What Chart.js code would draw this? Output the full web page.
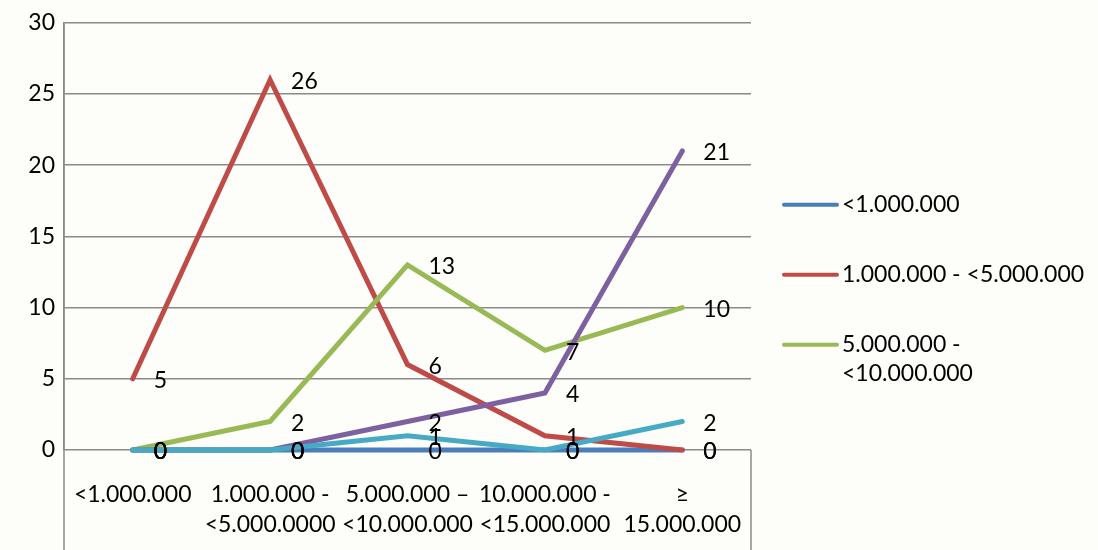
<!DOCTYPE html>
<html>
<head>
<meta charset="utf-8">
<script src="https://cdn.jsdelivr.net/npm/chart.js@4"></script>
<style>
  html, body { margin: 0; padding: 0; background: #fdfdf9; }
  #wrap { width: 1098px; height: 550px; }
</style>
</head>
<body>
<div id="wrap"><canvas id="incomeChart"></canvas></div>
<script>
const categories = [
  ['<1.000.000'],
  ['1.000.000 -', '<5.000.0000'],
  ['5.000.000 \u2013', '<10.000.000'],
  ['10.000.000 -', '<15.000.000'],
  ['\u2265', '15.000.000']
];
const seriesNames = [
  '<1.000.000',
  '1.000.000 - <5.000.000',
  '5.000.000 - <10.000.000',
  '10.000.000 - <15.000.000',
  '\u2265 15.000.000'
];
// only the first three entries show in the legend, the last one wraps
const legendText = [
  ['<1.000.000'],
  ['1.000.000 - <5.000.000'],
  ['5.000.000 -', '<10.000.000']
];
const below1m = [0, 0, 0, 0, 0];
const from1to5m = [5, 26, 6, 1, 0];
const from5to10m = [0, 2, 13, 7, 10];
const from10to15m = [0, 0, 2, 4, 21];
const above15m = [0, 0, 1, 0, 2];
const yTicks = [0, 5, 10, 15, 20, 25, 30];

const colors = ['#4a7ebb', '#be4b48', '#98b954', '#7d60a0', '#46aac5'];
const FONT = 'Lato';
const gray = '#8a8a8a';

const seriesValues = [below1m, from1to5m, from5to10m, from10to15m, above15m];

const pageBackground = {
  id: 'pageBackground',
  beforeDraw(chart) {
    const ctx = chart.ctx;
    ctx.save();
    ctx.fillStyle = '#fdfdf9';
    ctx.fillRect(0, 0, chart.width, chart.height);
    ctx.restore();
  }
};

// the frame lines that run below the plot, around the category labels
const frameLines = {
  id: 'frameLines',
  afterDraw(chart) {
    const a = chart.chartArea;
    const ctx = chart.ctx;
    ctx.save();
    ctx.strokeStyle = gray;
    ctx.lineWidth = 1.5;
    ctx.beginPath();
    ctx.moveTo(a.left, a.top);
    ctx.lineTo(a.left, chart.height);
    ctx.moveTo(a.right, a.bottom);
    ctx.lineTo(a.right, chart.height);
    ctx.stroke();
    ctx.restore();
  }
};

const valueLabels = {
  id: 'valueLabels',
  afterDatasetsDraw(chart) {
    const ctx = chart.ctx;
    ctx.save();
    ctx.font = '23px ' + FONT;
    ctx.fillStyle = '#000';
    ctx.textAlign = 'left';
    ctx.textBaseline = 'middle';
    chart.data.datasets.forEach((ds, i) => {
      chart.getDatasetMeta(i).data.forEach((pt, j) => {
        ctx.fillText(String(ds.data[j]), pt.x + 21, pt.y + 2);
      });
    });
    ctx.restore();
  }
};

const sideLegend = {
  id: 'sideLegend',
  afterDraw(chart) {
    const a = chart.chartArea;
    const ctx = chart.ctx;
    ctx.save();
    ctx.font = '23px ' + FONT;
    ctx.fillStyle = '#000';
    ctx.textAlign = 'left';
    ctx.textBaseline = 'middle';
    legendText.forEach((lines, i) => {
      const y = a.top + 182 + i * 70;
      ctx.strokeStyle = chart.data.datasets[i].borderColor;
      ctx.lineWidth = 4;
      ctx.lineCap = 'round';
      ctx.beginPath();
      ctx.moveTo(a.right + 33, y);
      ctx.lineTo(a.right + 86, y);
      ctx.stroke();
      lines.forEach((t, k) => ctx.fillText(t, a.right + 91, y + k * 29));
    });
    ctx.restore();
  }
};

new Chart(document.getElementById('incomeChart'), {
  type: 'line',
  data: {
    labels: categories,
    datasets: seriesValues.map((vals, i) => ({
      label: seriesNames[i],
      data: vals,
      borderColor: colors[i],
      backgroundColor: colors[i],
      borderWidth: 5,
      borderCapStyle: 'round',
      pointRadius: 0,
      tension: 0,
      clip: false,
      order: -i
    }))
  },
  options: {
    responsive: true,
    maintainAspectRatio: false,
    animation: false,
    layout: { padding: { top: 20, right: 347, bottom: 0, left: 0 } },
    plugins: {
      legend: { display: false },
      tooltip: { enabled: false }
    },
    scales: {
      x: {
        offset: true,
        grid: { display: false, drawTicks: false },
        border: { display: false },
        ticks: {
          color: '#000',
          font: { family: FONT, size: 23, lineHeight: 1.3 },
          padding: 30,
          maxRotation: 0,
          autoSkip: false
        },
        afterFit(scale) { scale.height = 100; }
      },
      y: {
        min: 0,
        max: 30,
        afterBuildTicks(scale) { scale.ticks = yTicks.map(v => ({ value: v })); },
        grid: { color: gray, lineWidth: 1.5, drawTicks: false },
        border: { display: true, color: gray, width: 1.5 },
        ticks: {
          color: '#000',
          font: { family: FONT, size: 23 },
          padding: 9
        },
        afterFit(scale) { scale.width = 64; }
      }
    }
  },
  plugins: [pageBackground, frameLines, valueLabels, sideLegend]
});
</script>
</body>
</html>
